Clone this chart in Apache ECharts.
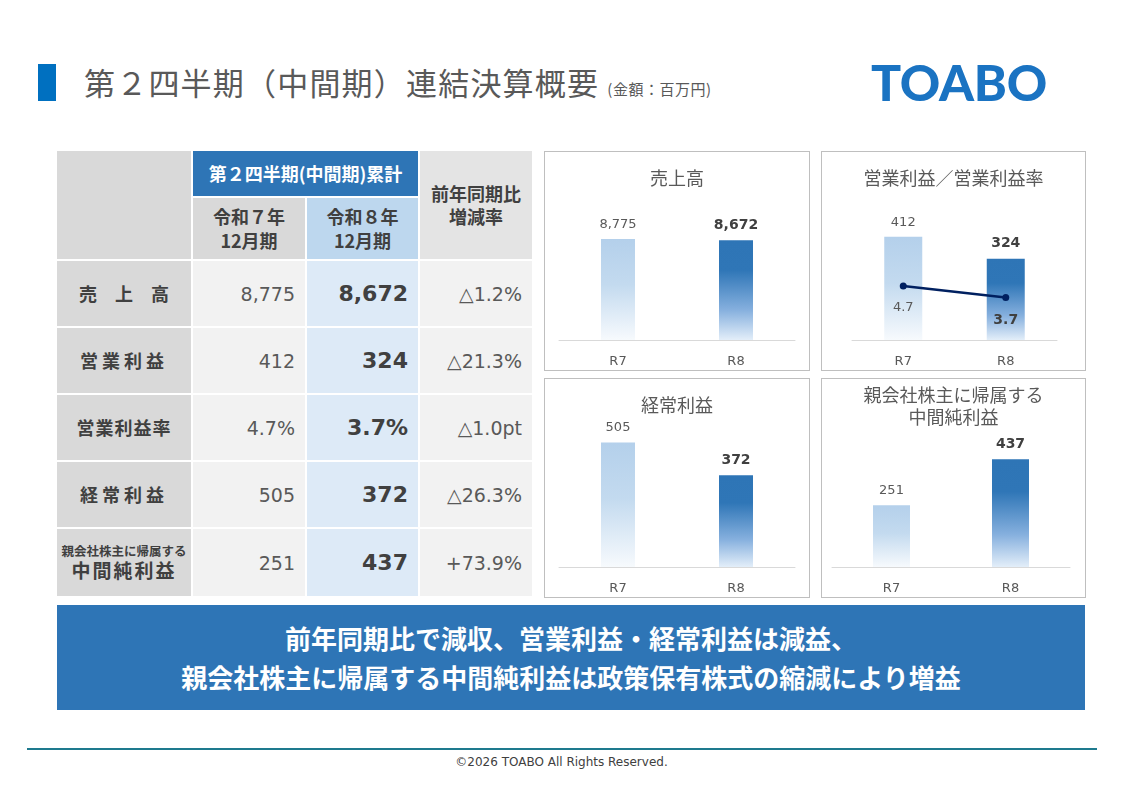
<!DOCTYPE html>
<html>
<head>
<meta charset="utf-8">
<script src="https://cdn.jsdelivr.net/npm/echarts@6/dist/echarts.min.js"></script>
<style>
  body { margin: 0; width: 1123px; height: 794px; position: relative; background: #fff; overflow: hidden;
         font-family: "Noto Sans CJK JP", sans-serif; color: #404040; }
  .abs { position: absolute; }
  #titleBar { left: 38px; top: 64px; width: 18px; height: 37px; background: #0070c0; }
  #title { left: 84px; top: 59px; font-size: 31px; color: #595959; white-space: nowrap; letter-spacing: 1.2px; }
  #title small { font-size: 15px; letter-spacing: 0.5px; }
  #logo { left: 871px; top: 52px; font-family: Lato, "Open Sans", sans-serif; font-weight: 900; font-size: 50px;
          color: #1a73c2; letter-spacing: -0.3px; }
  #tbl { left: 57px; top: 151px; display: grid; grid-template-columns: 134px 112px 111px 112px;
         grid-template-rows: 45px 61px 65px 65px 65px 65px 67px; gap: 2px; }
  .c { display: flex; align-items: center; justify-content: center; text-align: center; font-weight: bold; }
  .lab { background: #d9d9d9; font-size: 18px; color: #404040; line-height: 1.15; flex-direction: column; }
  .hd { font-size: 18px; line-height: 1.3; }
  .num { justify-content: flex-end; padding-right: 10px; font-family: "DejaVu Sans", sans-serif; }
  .prev { background: #f2f2f2; font-size: 19px; font-weight: normal; color: #595959; }
  .cur { background: #ddeaf7; font-size: 22px; color: #404040; }
  .chg { background: #f2f2f2; font-size: 19px; font-weight: normal; color: #595959; }
  .box { border: 1px solid #bfbfbf; box-sizing: border-box; }
  .chart { position: absolute; left: 0; top: 0; width: 100%; height: 100%; }
  #banner { left: 57px; top: 605px; width: 1028px; height: 105px; background: #2e75b6; color: #fff;
            font-weight: bold; font-size: 26px; line-height: 39px; text-align: center; padding-top: 13px; box-sizing: border-box; }
  #footLine { left: 27px; top: 748px; width: 1070px; height: 1.5px; background: #1e7a8e; }
  #foot { left: 0; top: 755px; width: 1123px; text-align: center; font-family: "DejaVu Sans", sans-serif; font-size: 12px; color: #404040; }
</style>
</head>
<body>
<div id="titleBar" class="abs"></div>
<div id="title" class="abs">第２四半期（中間期）連結決算概要 <small>(金額：百万円)</small></div>
<div id="logo" class="abs">TOABO</div>

<div id="tbl" class="abs"></div>

<div class="abs box" style="left:544px;top:151px;width:266px;height:220px"><div id="c1" class="chart"></div></div>
<div class="abs box" style="left:821px;top:151px;width:265px;height:220px"><div id="c2" class="chart"></div></div>
<div class="abs box" style="left:544px;top:378px;width:266px;height:220px"><div id="c3" class="chart"></div></div>
<div class="abs box" style="left:821px;top:378px;width:265px;height:220px"><div id="c4" class="chart"></div></div>

<div id="banner" class="abs">前年同期比で減収、営業利益・経常利益は減益、<br>親会社株主に帰属する中間純利益は政策保有株式の縮減により増益</div>
<div id="footLine" class="abs"></div>
<div id="foot" class="abs">©2026 TOABO All Rights Reserved.</div>

<script>
// 表のデータ
var rowLabels = ['売　上　高', '営業利益', '営業利益率', '経常利益', '中間純利益'];
var prevText = ['8,775', '412', '4.7%', '505', '251'];
var curText = ['8,672', '324', '3.7%', '372', '437'];
var changeText = ['△1.2%', '△21.3%', '△1.0pt', '△26.3%', '+73.9%'];

// グラフのデータ
var categories = ['R7', 'R8'];
var salesValues = [8775, 8672];
var opProfitValues = [412, 324];
var opMarginValues = [4.7, 3.7];
var ordinaryValues = [505, 372];
var netProfitValues = [251, 437];

// 表を組み立てる
var tbl = document.getElementById('tbl');
function cell(html, cls, style) {
    var d = document.createElement('div');
    d.className = 'c ' + cls;
    d.innerHTML = html;
    if (style) d.setAttribute('style', style);
    tbl.appendChild(d);
}
cell('', 'lab', 'grid-row:1/3;grid-column:1');
cell('第２四半期(中間期)累計', 'hd', 'grid-row:1;grid-column:2/4;background:#2e75b6;color:#fff');
cell('前年同期比<br>増減率', 'hd', 'grid-row:1/3;grid-column:4;background:#e4e4e4');
cell('令和７年<br>12月期', 'hd', 'grid-row:2;grid-column:2;background:#d9d9d9');
cell('令和８年<br>12月期', 'hd', 'grid-row:2;grid-column:3;background:#bdd7ee');
var spacing = ['0', '4px', '1px', '4px', '2px'];
for (var i = 0; i < rowLabels.length; i++) {
    var lab = rowLabels[i];
    if (i === 4) lab = '<span style="font-size:12.5px;letter-spacing:0">親会社株主に帰属する</span><span style="font-size:19px">' + lab + '</span>';
    cell(lab, 'lab', 'letter-spacing:' + spacing[i]);
    cell(prevText[i], 'num prev');
    cell(curText[i], 'num cur');
    cell(changeText[i], 'num chg');
}

var prevGrad = new echarts.graphic.LinearGradient(0, 0, 0, 1, [
    {offset: 0, color: '#b4d0eb'}, {offset: 0.45, color: '#c3daef'}, {offset: 1, color: '#f7fafd'}
]);
var curGrad = new echarts.graphic.LinearGradient(0, 0, 0, 1, [
    {offset: 0, color: '#2e75b6'}, {offset: 0.3, color: '#2f76b7'}, {offset: 0.7, color: '#86b0de'}, {offset: 1, color: '#e3eef9'}
]);

function fmt(v) { return v.toLocaleString('en-US'); }

function barData(values) {
    return values.map(function(v, i) {
        return {
            value: v,
            itemStyle: {color: i === 0 ? prevGrad : curGrad},
            label: i === 0 ? {fontWeight: 'normal', fontSize: 13, color: '#595959'}
                           : {fontWeight: 'bold', fontSize: 14, color: '#404040'}
        };
    });
}

function makeChart(id, title, values, max, barWidth, grid, titleTop) {
    var chart = echarts.init(document.getElementById(id));
    var option = {
        animation: false,
        title: {
            text: title, left: 'center', top: titleTop,
            textStyle: {fontSize: 18, fontWeight: 'normal', color: '#595959', lineHeight: 22,
                        fontFamily: 'Noto Sans CJK JP'}
        },
        grid: grid,
        xAxis: {
            type: 'category', data: categories,
            axisLine: {lineStyle: {color: '#d9d9d9', width: 1}},
            axisTick: {show: false},
            axisLabel: {color: '#595959', fontSize: 13, margin: 15, fontFamily: 'DejaVu Sans'}
        },
        yAxis: [{type: 'value', min: 0, max: max, show: false, splitLine: {show: false}}],
        series: [{
            type: 'bar', barWidth: barWidth, data: barData(values),
            label: {show: true, position: 'top', distance: 8, fontFamily: 'DejaVu Sans',
                    formatter: function(p) { return fmt(p.value); }}
        }]
    };
    return {chart: chart, option: option};
}

var g = {left: 14, right: 14, top: 50, bottom: 30};

var c1 = makeChart('c1', '売上高', salesValues, 12000, 34, g, 10);
c1.chart.setOption(c1.option);

var c2 = makeChart('c2', '営業利益／営業利益率', opProfitValues, 550, 38, {left: 30, right: 28, top: 50, bottom: 30}, 10);
c2.option.yAxis.push({type: 'value', min: 0, max: 12, show: false, splitLine: {show: false}});
c2.option.series.push({
    type: 'line', yAxisIndex: 1, data: opMarginValues.map(function(v, i) {
        return {value: v, label: i === 0 ? {fontWeight: 'normal', fontSize: 13, color: '#595959'}
                                        : {fontWeight: 'bold', fontSize: 14, color: '#404040'}};
    }),
    symbol: 'circle', symbolSize: 7,
    lineStyle: {color: '#002060', width: 2.5}, itemStyle: {color: '#002060'},
    label: {show: true, position: 'bottom', distance: 12, fontFamily: 'DejaVu Sans'}
});
c2.chart.setOption(c2.option);

var c3 = makeChart('c3', '経常利益', ordinaryValues, 560, 34, g, 10);
c3.chart.setOption(c3.option);

var c4 = makeChart('c4', '親会社株主に帰属する\n中間純利益', netProfitValues, 560, 37, {left: 10, right: 15, top: 50, bottom: 30}, 0);
c4.chart.setOption(c4.option);
</script>
</body>
</html>
